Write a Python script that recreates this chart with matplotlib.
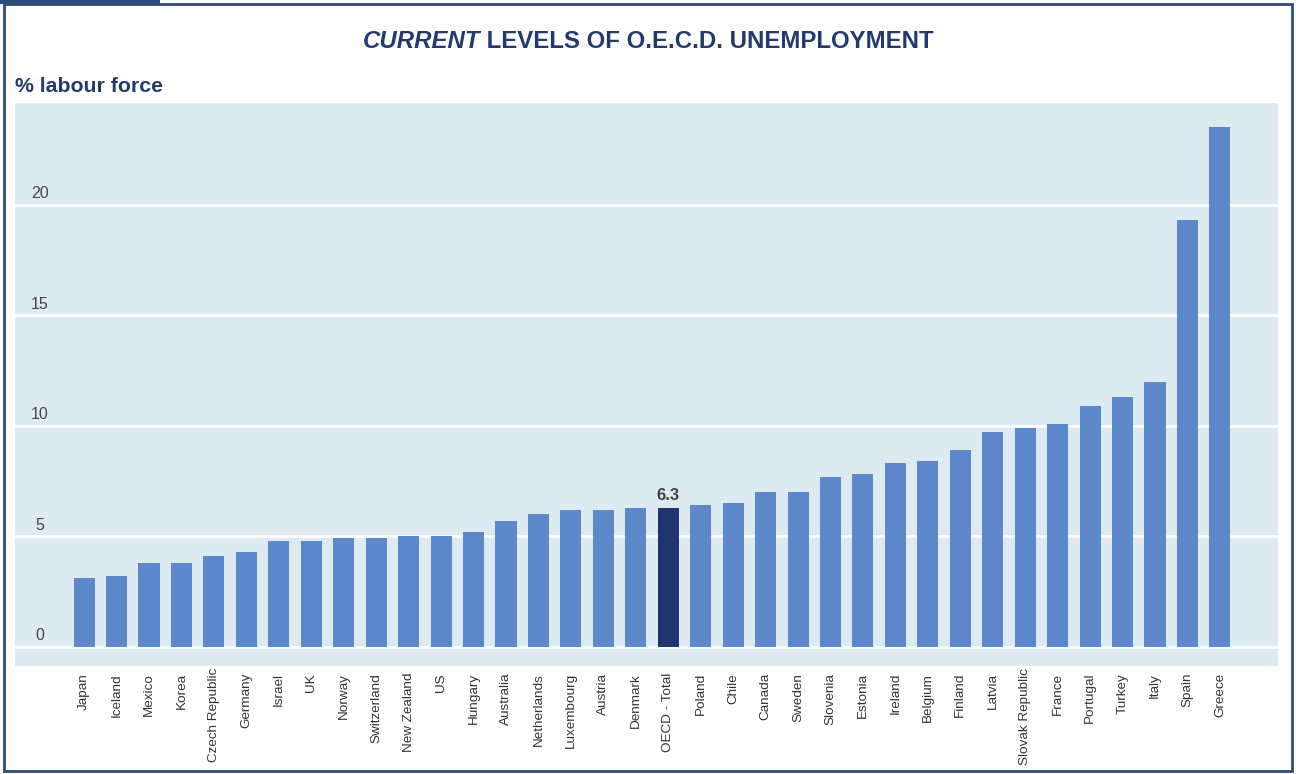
import matplotlib.pyplot as plt
from matplotlib.patches import Rectangle
import matplotlib.transforms as mtransforms
import numpy as np

plt.rcParams['font.family'] = ['Liberation Sans', 'DejaVu Sans']

countries = ["Japan", "Iceland", "Mexico", "Korea", "Czech Republic", "Germany",
             "Israel", "UK", "Norway", "Switzerland", "New Zealand", "US",
             "Hungary", "Australia", "Netherlands", "Luxembourg", "Austria",
             "Denmark", "OECD - Total", "Poland", "Chile", "Canada", "Sweden",
             "Slovenia", "Estonia", "Ireland", "Belgium", "Finland", "Latvia",
             "Slovak Republic", "France", "Portugal", "Turkey", "Italy", "Spain",
             "Greece"]
rates = [3.1, 3.2, 3.8, 3.8, 4.1, 4.3,
         4.8, 4.8, 4.9, 4.9, 5.0, 5.0,
         5.2, 5.7, 6.0, 6.2, 6.2,
         6.3, 6.3, 6.4, 6.5, 7.0, 7.0,
         7.7, 7.8, 8.3, 8.4, 8.9, 9.7,
         9.9, 10.1, 10.9, 11.3, 12.0, 19.3,
         23.5]
highlight = "OECD - Total"
yticks = [0, 5, 10, 15, 20]

navy = "#233a6e"
bar_col = "#5d88cc"
hl_col = "#203570"
bg_col = "#deeaf2"

fig = plt.figure(figsize=(12.96, 7.74), dpi=100)
ax = fig.add_axes([15 / 1296, 1 - 666 / 774, 1263 / 1296, 563 / 774])
ax.set_facecolor(bg_col)

x = np.arange(len(countries))
colors = [hl_col if c == highlight else bar_col for c in countries]
ax.bar(x, rates, width=0.65, color=colors, zorder=3)

for v in yticks:
    ax.axhline(v, color="white", lw=1.9, zorder=2)
    ax.annotate(str(v), xy=(0.0195, v), xycoords=ax.get_yaxis_transform(),
                xytext=(0, 2.5), textcoords="offset points",
                ha="center", va="bottom", fontsize=11.5, color="#444444")

i = countries.index(highlight)
ax.annotate(f"{rates[i]:.1f}", xy=(x[i], rates[i]), xytext=(0, 3),
            textcoords="offset points", ha="center", va="bottom",
            fontsize=12, fontweight="bold", color="#404040")

ax.set_xlim(-2.13, 36.79)
ax.set_ylim(-0.87, 24.6)
ax.set_yticks([])
ax.set_xticks(x)
ax.set_xticklabels(countries, rotation=90, fontsize=9.7, color="#333333")
ax.tick_params(axis="x", length=0, pad=5)
# the longest labels sit a little higher so they stay inside the frame
for lab in ax.get_xticklabels():
    if len(lab.get_text()) > 13:
        lab.set_transform(lab.get_transform() +
                          mtransforms.ScaledTranslation(0, 5 / 100, fig.dpi_scale_trans))
for s in ax.spines.values():
    s.set_visible(False)

# title: italic first word, rest upright, whole line centred
ty = 1 - 41 / 774
t1 = fig.text(0, ty, "CURRENT", ha="left", va="center", fontsize=17.3,
              fontweight="bold", fontstyle="italic", color=navy)
t2 = fig.text(0, ty, " LEVELS OF O.E.C.D. UNEMPLOYMENT", ha="left",
              va="center", fontsize=17.3, fontweight="bold", color=navy)
r = fig.canvas.get_renderer()
w1 = t1.get_window_extent(r).width
w2 = t2.get_window_extent(r).width
x0 = (1296 - w1 - w2) / 2
t1.set_x(x0 / 1296)
t2.set_x((x0 + w1) / 1296)

fig.text(15 / 1296, 1 - 86 / 774, "% labour force", ha="left", va="center",
         fontsize=15.3, fontweight="bold", color=navy)

# outer frame and top-left tab
fig.patches.append(Rectangle((4 / 1296, 3 / 774), 1288 / 1296, 767 / 774,
                             transform=fig.transFigure, fill=False,
                             edgecolor="#2f4a7c", lw=2))
fig.patches.append(Rectangle((0, 1 - 4 / 774), 160 / 1296, 4 / 774,
                             transform=fig.transFigure, color="#2f4a7c", lw=0))

fig.savefig("out.png", dpi=100)
